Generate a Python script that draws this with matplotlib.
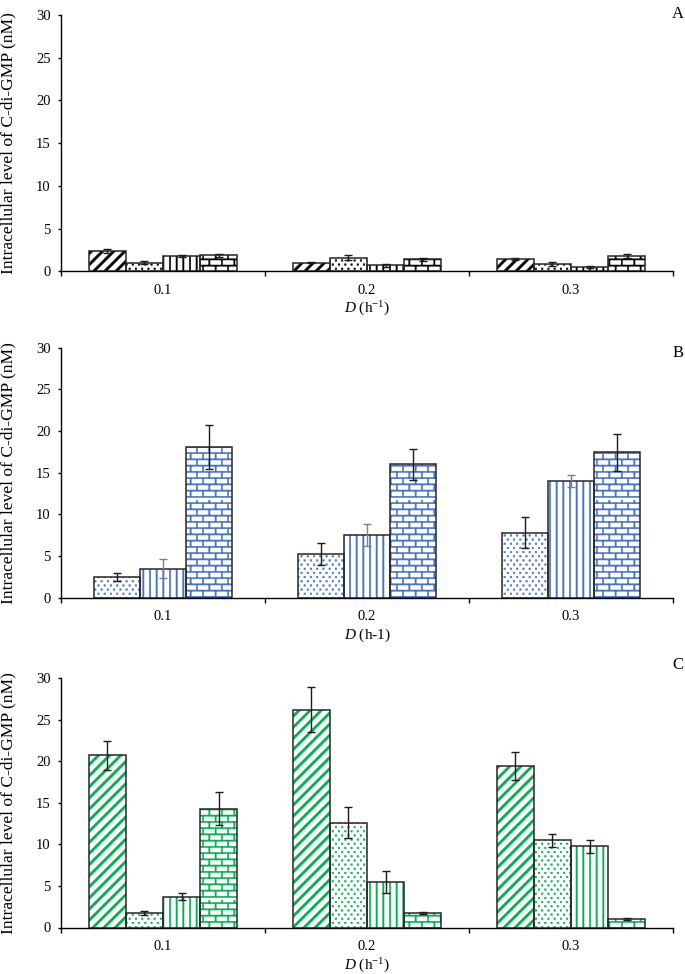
import matplotlib
matplotlib.use("Agg")
import matplotlib.pyplot as plt
import matplotlib.hatch as mhatch
from matplotlib.path import Path
import numpy as np

# ---- data ----
rates = ["0.1", "0.2", "0.3"]

a_striped = [2.4, 1.0, 1.45]
a_striped_err = [0.25, 0.05, 0.15]
a_dotted = [1.0, 1.6, 0.85]
a_dotted_err = [0.2, 0.3, 0.2]
a_vertical = [1.75, 0.7, 0.5]
a_vertical_err = [0.1, 0.15, 0.1]
a_brick = [1.85, 1.4, 1.8]
a_brick_err = [0.15, 0.2, 0.2]

b_dotted = [2.5, 5.25, 7.8]
b_dotted_err = [0.45, 1.3, 1.85]
b_vertical = [3.5, 7.5, 14.0]
b_vertical_err = [1.1, 1.35, 0.75]
b_brick = [18.1, 16.0, 17.45]
b_brick_err = [2.6, 1.9, 2.2]

c_striped = [20.7, 26.2, 19.4]
c_striped_err = [1.75, 2.7, 1.65]
c_dotted = [1.7, 12.6, 10.5]
c_dotted_err = [0.25, 1.85, 0.8]
c_vertical = [3.7, 5.5, 9.75]
c_vertical_err = [0.4, 1.3, 0.75]
c_brick = [14.3, 1.7, 1.0]
c_brick_err = [1.95, 0.12, 0.12]

plt.rcParams["font.family"] = "Liberation Serif"
plt.rcParams["mathtext.fontset"] = "custom"
plt.rcParams["mathtext.rm"] = "Liberation Serif"
plt.rcParams["mathtext.it"] = "Liberation Serif:italic"
plt.rcParams["hatch.linewidth"] = 0.3


# ---- Excel-like fill patterns as custom hatches (unit tile = 1 inch) ----
class TileHatch(mhatch.HatchPatternBase):
    char = ""
    polys = []

    def __init__(self, hatch, density):
        self.active = self.char in hatch
        self.num_vertices = 5 * len(self.polys) if self.active else 0

    def set_vertices_and_codes(self, vertices, codes):
        pts = np.asarray(self.polys, float)
        n = len(pts)
        vertices[:] = np.concatenate([pts, pts[:, :1]], axis=1).reshape(-1, 2)
        c = np.full((n, 5), Path.LINETO, dtype=Path.code_type)
        c[:, 0] = Path.MOVETO
        c[:, 4] = Path.CLOSEPOLY
        codes[:] = c.ravel()


def _rect(x0, y0, x1, y1):
    return [(x0, y0), (x1, y0), (x1, y1), (x0, y1)]


def _stripes(n=9, t=0.034):
    out = []
    for k in range(-n, n + 1):
        c = k / n
        out.append([(-0.1, -0.1 + c), (1.1, 1.1 + c), (1.1, 1.1 + c + t), (-0.1, -0.1 + c + t)])
    return out


def _vlines(n=15, w=0.014):
    return [_rect((k + 0.5) / n - w / 2, -0.1, (k + 0.5) / n + w / 2, 1.1) for k in range(n)]


def _dots(cols=16, rows=24, s=0.016):
    out = []
    for r in range(rows):
        y = (r + 0.5) / rows
        off = 0.5 / cols if r % 2 else 0.0
        for c in range(cols):
            x = (c + 0.25) / cols + off
            out.append(_rect(x - s / 2, y - s / 2, x + s / 2, y + s / 2))
    return out


def _bricks(rows=16, cols=8, w=0.013):
    out = []
    for r in range(rows):
        y = (r + 0.5) / rows
        out.append(_rect(-0.1, y - w / 2, 1.1, y + w / 2))
        y1 = (r + 1.5) / rows
        shift = 0.5 if r % 2 else 0.0
        for j in range(cols):
            x = (j + 0.25 + shift) / cols
            out.append(_rect(x - w / 2, y, x + w / 2, y1))
    return out


class StripeHatch(TileHatch):
    char = "/"
    polys = _stripes()


class DotHatch(TileHatch):
    char = "."
    polys = _dots()


class VlineHatch(TileHatch):
    char = "|"
    polys = _vlines()


class BrickHatch(TileHatch):
    char = "+"
    polys = _bricks()


mhatch._hatch_types = [StripeHatch, DotHatch, VlineHatch, BrickHatch]


def draw_panel(ax, series, errs, hatches, err_colors, color, width, xlabel):
    x = np.arange(len(rates))
    n = len(series)
    for i, (vals, err, h, ec) in enumerate(zip(series, errs, hatches, err_colors)):
        pos = x + (i - (n - 1) / 2) * width
        ax.bar(pos, vals, width, color="white", edgecolor=color, linewidth=0, hatch=h, zorder=2)
        ax.bar(pos, vals, width, fill=False, edgecolor="#262626", linewidth=1.1, zorder=3)
        ax.errorbar(pos, vals, yerr=err, fmt="none", ecolor=ec, elinewidth=1.0,
                    capsize=3, capthick=1.0, zorder=4)

    ax.set_xlim(-0.5, 2.5)
    ax.set_ylim(0, 30)
    ax.set_yticks(range(0, 31, 5))
    ax.set_xticks([-0.5, 0.5, 1.5, 2.5])
    ax.set_xticklabels([])
    ax.set_xticks(x, minor=True)
    ax.set_xticklabels(rates, minor=True)
    ax.tick_params(axis="x", which="major", direction="out", length=3.5, width=1.0)
    ax.tick_params(axis="x", which="minor", length=0, pad=9.0, labelsize=10.5)
    ax.tick_params(axis="y", direction="out", length=2.5, width=1.0, pad=5.0, labelsize=10.5)
    for side in ("top", "right"):
        ax.spines[side].set_visible(False)
    for side in ("left", "bottom"):
        ax.spines[side].set_linewidth(1.0)

    h_px = ax.get_position().height * 974
    ax.set_xlabel(xlabel, fontsize=11, va="center")
    ax.xaxis.set_label_coords(0.5, -38 / h_px)
    ax.set_ylabel("Intracellular level of C-di-GMP (nM)", fontsize=12.6, va="center")
    ax.yaxis.set_label_coords(-53 / 612, 0.5)
    return ax


fig = plt.figure(figsize=(6.85, 9.74), dpi=100)

ax_a = fig.add_axes([61 / 685, 1 - 271.3 / 974, 612 / 685, 256.3 / 974])
ax_b = fig.add_axes([61 / 685, 1 - 597.7 / 974, 612 / 685, 250 / 974])
ax_c = fig.add_axes([61 / 685, 1 - 927.5 / 974, 612 / 685, 249.5 / 974])

black = "#000000"
blue = "#4472C4"
green = "#00B050"
dark = "#1a1a1a"
grey = "#7f7f7f"

draw_panel(ax_a, [a_striped, a_dotted, a_vertical, a_brick],
           [a_striped_err, a_dotted_err, a_vertical_err, a_brick_err],
           ["/", ".", "|", "+"], [dark, dark, dark, dark], black, 0.182,
           r"$\it{D}$ (h$^{-1}$)")
draw_panel(ax_b, [b_dotted, b_vertical, b_brick],
           [b_dotted_err, b_vertical_err, b_brick_err],
           [".", "|", "+"], [dark, grey, dark], blue, 0.225, r"$\it{D}$ (h-1)")
draw_panel(ax_c, [c_striped, c_dotted, c_vertical, c_brick],
           [c_striped_err, c_dotted_err, c_vertical_err, c_brick_err],
           ["/", ".", "|", "+"], [dark, dark, dark, dark], green, 0.182,
           r"$\it{D}$ (h$^{-1}$)")

fig.text(678 / 685, 1 - 14 / 974, "A", fontsize=12, ha="center", va="center")
fig.text(678 / 685, 1 - 353 / 974, "B", fontsize=12, ha="center", va="center")
fig.text(678 / 685, 1 - 665 / 974, "C", fontsize=12, ha="center", va="center")

fig.savefig("out.png", dpi=100)
